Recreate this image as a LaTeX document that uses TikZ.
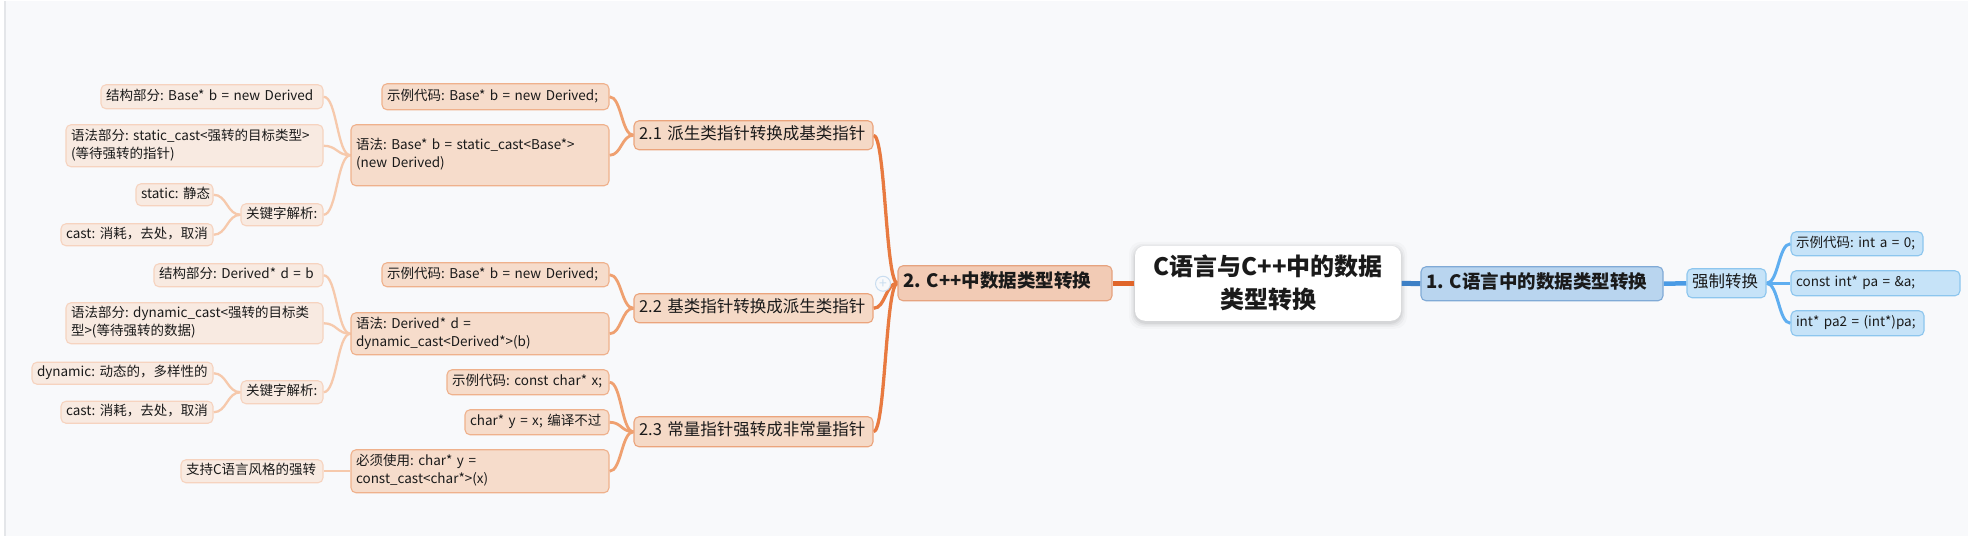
\documentclass[tikz,border=0pt]{standalone}
\usepackage{fontspec}
\setmainfont{Noto Sans CJK SC}
\usetikzlibrary{calc}
\frenchspacing
\definecolor{bgc}{HTML}{F8F9FB}
\definecolor{edgeline}{HTML}{E4E6E9}
\definecolor{txt}{HTML}{1A1A1A}
\definecolor{lvfill}{HTML}{F8EAE1}
\definecolor{lvdraw}{HTML}{F6D3BF}
\definecolor{lthfill}{HTML}{F6DCCB}
\definecolor{lthdraw}{HTML}{EFB18C}
\definecolor{ltwfill}{HTML}{F5D9C6}
\definecolor{ltwdraw}{HTML}{EBA47C}
\definecolor{lofill}{HTML}{F2CBB5}
\definecolor{lodraw}{HTML}{E6A37F}
\definecolor{lbfill}{HTML}{B9D5EF}
\definecolor{lbdraw}{HTML}{80AAD6}
\definecolor{blfill}{HTML}{C6E3F8}
\definecolor{bldraw}{HTML}{8DC6EE}
\definecolor{ezo}{HTML}{E0652A}
\definecolor{ezb}{HTML}{3D80C6}
\definecolor{eoo}{HTML}{E87A40}
\definecolor{eto}{HTML}{EFA070}
\definecolor{etho}{HTML}{F6C9AC}
\definecolor{eob}{HTML}{4A9BE5}
\definecolor{etb}{HTML}{5FAEF0}
\definecolor{plusc}{HTML}{C9DDF0}
\pgfdeclarelayer{edges}
\pgfsetlayers{edges,main}
\tikzset{
  mmbase/.style={rounded corners=5pt, line width=1.1pt, inner xsep=5pt, inner ysep=2pt, align=left, text=txt, anchor=center},
  lv/.style={mmbase, fill=lvfill, draw=lvdraw, font=\fontsize{13.5}{18}\selectfont},
  lth/.style={mmbase, fill=lthfill, draw=lthdraw, font=\fontsize{13.5}{18}\selectfont},
  ltw/.style={mmbase, fill=ltwfill, draw=ltwdraw, font=\fontsize{16.5}{20}\selectfont},
  lone/.style={mmbase, fill=lofill, draw=lodraw, font=\bfseries\fontsize{18.5}{22}\selectfont},
  lblue/.style={mmbase, fill=lbfill, draw=lbdraw, font=\bfseries\fontsize{18.5}{22}\selectfont},
  bleaf/.style={mmbase, fill=blfill, draw=bldraw, font=\fontsize{13.5}{18}\selectfont},
  bmid/.style={mmbase, fill=blfill, draw=bldraw, font=\fontsize{16.5}{20}\selectfont},
  rootbox/.style={mmbase, fill=white, draw=none, rounded corners=10pt, align=center, font=\bfseries\fontsize{24}{33}\selectfont},
  ezero/.style={draw=ezo, line width=5pt},
  ezerob/.style={draw=ezb, line width=5pt},
  eone/.style={draw=eoo, line width=3.3pt},
  etwo/.style={draw=eto, line width=2.8pt},
  ethree/.style={draw=etho, line width=2.3pt},
  eoneb/.style={draw=eob, line width=4.5pt},
  etwob/.style={draw=etb, line width=3pt},
}
\newcommand\mmbox[7]{%
  \pgfmathsetmacro\mmx{(#2+#4)/2}%
  \pgfmathsetmacro\mmy{(#3+#5)/2}%
  \pgfmathsetmacro\mmW{#4-#2}%
  \pgfmathsetmacro\mmH{#5-#3}%
  \pgfmathsetmacro\mmT{#4-#2-10}%
  \node[#6, minimum width=\mmW pt, minimum height=\mmH pt, text width=\mmT pt] (#1) at (\mmx,\mmy)
    {\begin{tabular}{@{}l@{}}#7\end{tabular}};}
\newcommand\mmlinkl[3]{%
  \path (#2.west) coordinate (mmA) (#3.east) coordinate (mmB);
  \path ($(mmA)!0.5!(mmB)$) coordinate (mmM);
  \draw[#1] (mmA) .. controls (mmM |- mmA) and (mmM |- mmB) .. (mmB);}
\newcommand\mmlinkr[3]{%
  \path (#2.east) coordinate (mmA) (#3.west) coordinate (mmB);
  \path ($(mmA)!0.5!(mmB)$) coordinate (mmM);
  \draw[#1] (mmA) .. controls (mmM |- mmA) and (mmM |- mmB) .. (mmB);}
\begin{document}
\begin{tikzpicture}[x=1pt,y=-1pt]
\begin{pgfonlayer}{edges}
\fill[bgc] (0,0) rectangle (1968,535);
\fill[white] (0,0) rectangle (4,535);
\draw[edgeline, line width=1.5pt] (5,0) -- (5,535);
% soft shadow of the central topic
\foreach \s/\o in {6/0.02,4/0.03,2.5/0.04,1.2/0.05}{
  \fill[black, opacity=\o, rounded corners=12pt] (1135-\s,245-\s+2) rectangle (1401+\s,320+\s+2);
}
\end{pgfonlayer}
\useasboundingbox (0,0) rectangle (1968,535);

% root
\node[rootbox, minimum width=266pt, minimum height=75pt, text width=256pt] (root) at (1268,282.5) {C语言与C++中的数据\\类型转换};

% right side
\mmbox{cone}{1421}{266}{1663}{300}{lblue}{1. C语言中的数据类型转换}
\mmbox{force}{1687}{268}{1766}{297}{bmid}{强制转换}
\mmbox{ba}{1791}{231}{1923}{255}{bleaf}{示例代码: int a = 0;}
\mmbox{bb}{1791}{270}{1960}{295}{bleaf}{const int* pa = \&a;}
\mmbox{bc}{1791}{310}{1924}{335}{bleaf}{int* pa2 = (int*)pa;}

% left side
\mmbox{ctwo}{898}{265}{1112}{300}{lone}{2. C++中数据类型转换}
\mmbox{s1}{634}{120}{873}{149}{ltw}{2.1 派生类指针转换成基类指针}
\mmbox{s2}{634}{293}{873}{322}{ltw}{2.2 基类指针转换成派生类指针}
\mmbox{s3}{634}{416}{873}{446}{ltw}{2.3 常量指针强转成非常量指针}

\mmbox{aex}{382}{83}{609}{109}{lth}{示例代码: Base* b = new Derived;}
\mmbox{asyn}{351}{124}{609}{185}{lth}{语法: Base* b = static\_cast<Base*>\\(new Derived)\\ }
\mmbox{astru}{101}{84}{323}{108}{lv}{结构部分: Base* b = new Derived}
\mmbox{agram}{66}{124}{323}{166}{lv}{语法部分: static\_cast<强转的目标类型>\\(等待强转的指针)}
\mmbox{akey}{241}{203}{323}{225}{lv}{关键字解析:}
\mmbox{astat}{136}{183}{213}{205}{lv}{static: 静态}
\mmbox{acast}{61}{223}{213}{245}{lv}{cast: 消耗，去处，取消}

\mmbox{bex}{382}{262}{609}{286}{lth}{示例代码: Base* b = new Derived;}
\mmbox{bsyn}{351}{312}{609}{354}{lth}{语法: Derived* d =\\dynamic\_cast<Derived*>(b)}
\mmbox{bstru}{154}{263}{323}{286}{lv}{结构部分: Derived* d = b}
\mmbox{bgram}{66}{302}{323}{343}{lv}{语法部分: dynamic\_cast<强转的目标类\\型>(等待强转的数据)}
\mmbox{bkey}{241}{380}{323}{403}{lv}{关键字解析:}
\mmbox{bdyn}{32}{362}{213}{383}{lv}{dynamic: 动态的，多样性的}
\mmbox{bcast}{61}{401}{213}{422}{lv}{cast: 消耗，去处，取消}

\mmbox{cex}{447}{369}{609}{394}{lth}{示例代码: const char* x;}
\mmbox{cyx}{465}{409}{609}{434}{lth}{char* y = x; 编译不过}
\mmbox{cmust}{351}{449}{609}{492}{lth}{必须使用: char* y =\\const\_cast<char*>(x)}
\mmbox{csup}{181}{459}{323}{482}{lv}{支持C语言风格的强转}

\begin{pgfonlayer}{edges}
\draw[ezero] (root.west) -- (ctwo.east);
\draw[ezerob] (root.east) -- (cone.west);
\draw[eoneb] (cone.east) -- (force.west);
\mmlinkr{etwob}{force}{ba}
\mmlinkr{etwob}{force}{bb}
\mmlinkr{etwob}{force}{bc}
\mmlinkl{eone}{ctwo}{s1}
\mmlinkl{eone}{ctwo}{s2}
\mmlinkl{eone}{ctwo}{s3}
\mmlinkl{etwo}{s1}{aex}
\mmlinkl{etwo}{s1}{asyn}
\mmlinkl{ethree}{asyn}{astru}
\mmlinkl{ethree}{asyn}{agram}
\mmlinkl{ethree}{asyn}{akey}
\mmlinkl{ethree}{akey}{astat}
\mmlinkl{ethree}{akey}{acast}
\mmlinkl{etwo}{s2}{bex}
\mmlinkl{etwo}{s2}{bsyn}
\mmlinkl{ethree}{bsyn}{bstru}
\mmlinkl{ethree}{bsyn}{bgram}
\mmlinkl{ethree}{bsyn}{bkey}
\mmlinkl{ethree}{bkey}{bdyn}
\mmlinkl{ethree}{bkey}{bcast}
\mmlinkl{etwo}{s3}{cex}
\mmlinkl{etwo}{s3}{cyx}
\mmlinkl{etwo}{s3}{cmust}
\draw[ethree] (cmust.west) -- (csup.east);
\end{pgfonlayer}

% collapse/expand marker
\node[circle, draw=plusc, fill=bgc, line width=1pt, minimum size=15pt, inner sep=0pt, font=\fontsize{14}{14}\selectfont, text=plusc] (expand) at (883,283) {+};
\end{tikzpicture}
\end{document}
